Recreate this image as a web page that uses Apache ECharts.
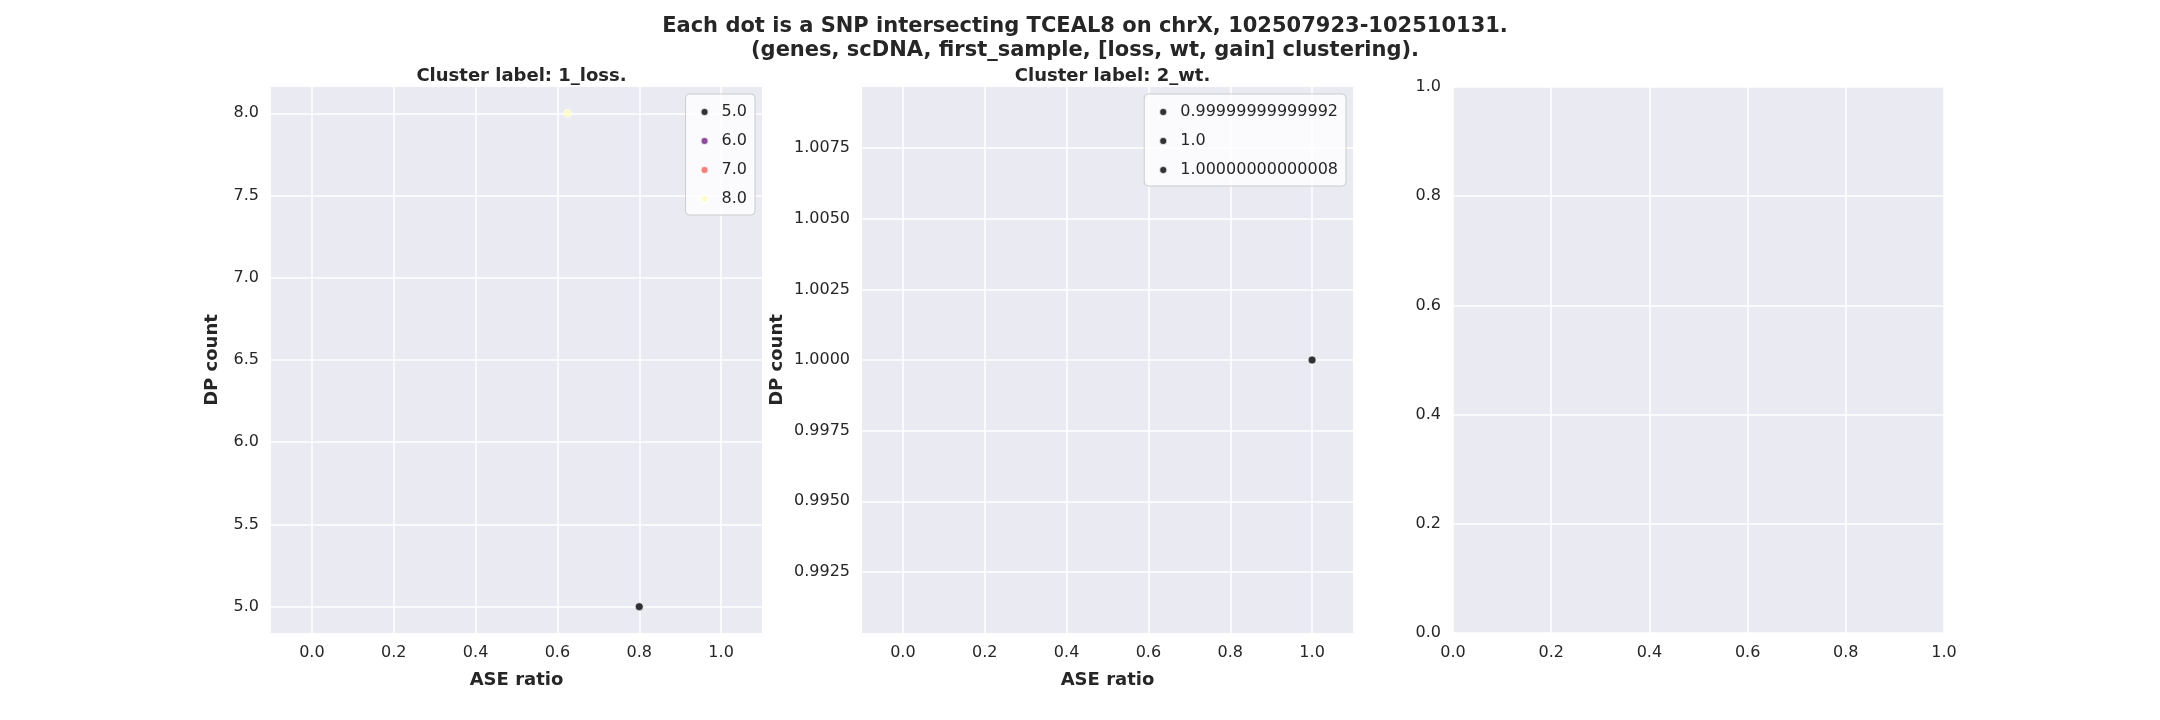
<!DOCTYPE html>
<html><head><meta charset="utf-8">
<script src="https://cdn.jsdelivr.net/npm/echarts@6/dist/echarts.min.js"></script>
<style>html,body{margin:0;background:#fff}#c{width:2160px;height:720px}</style>
</head><body><div id="c"></div>
<script>
const titleLines = "Each dot is a SNP intersecting TCEAL8 on chrX, 102507923-102510131.\n(genes, scDNA, first_sample, [loss, wt, gain] clustering).";
const panelTitles = ["Cluster label: 1_loss.", "Cluster label: 2_wt.", ""];
const p1Legend = ["5.0", "6.0", "7.0", "8.0"];
const p1Colors = ["#000004", "#721f81", "#f1605d", "#fcfdbf"];
const p1Points = { "5.0": [[0.8, 5.0]], "6.0": [], "7.0": [], "8.0": [[0.625, 8.0]] };
const p2Legend = ["0.99999999999992", "1.0", "1.00000000000008"];
const p2Points = { "0.99999999999992": [], "1.0": [[1.0, 1.0]], "1.00000000000008": [] };
const xTicks = [0, 0.2, 0.4, 0.6, 0.8, 1.0];
const y1Ticks = [5.0, 5.5, 6.0, 6.5, 7.0, 7.5, 8.0];
const y2Ticks = [0.9925, 0.995, 0.9975, 1.0, 1.0025, 1.005, 1.0075];
const y3Ticks = [0, 0.2, 0.4, 0.6, 0.8, 1.0];

const lefts = [271, 862, 1453], W = 491, TOP = 87, H = 546;
const tc = '#262626', FF = 'DejaVu Sans';
const grids = lefts.map(l => ({ left: l, top: TOP, width: W, height: H, backgroundColor: '#eaeaf2', show: true, borderWidth: 0 }));
function xa(i, ticks, min, max, name) {
  return { gridIndex: i, type: 'value', min, max, name, nameLocation: 'middle', nameGap: 38,
    nameTextStyle: { fontFamily: FF, fontSize: 18, fontWeight: 'bold', color: tc },
    axisLine: { show: false }, axisTick: { show: false, customValues: ticks },
    axisLabel: { customValues: ticks, fontFamily: FF, fontSize: 16, color: tc, margin: 12, formatter: v => v.toFixed(1) },
    splitLine: { show: true, lineStyle: { color: '#fff', width: 1.5 } } };
}
function ya(i, ticks, min, max, name, dec) {
  return { gridIndex: i, type: 'value', min, max, name, nameLocation: 'middle', nameGap: dec > 1 ? 76 : 50,
    nameTextStyle: { fontFamily: FF, fontSize: 18, fontWeight: 'bold', color: tc },
    axisLine: { show: false }, axisTick: { show: false, customValues: ticks },
    axisLabel: { customValues: ticks, fontFamily: FF, fontSize: 16, color: tc, margin: 12, formatter: v => v.toFixed(dec) },
    splitLine: { show: true, lineStyle: { color: '#fff', width: 1.5 } } };
}
const series = [];
p1Legend.forEach((n, k) => series.push({ name: n, type: 'scatter', xAxisIndex: 0, yAxisIndex: 0, data: p1Points[n], symbolSize: 8,
  itemStyle: { color: p1Colors[k], borderColor: '#fff', borderWidth: 0.8 } }));
p2Legend.forEach(n => series.push({ name: n, type: 'scatter', xAxisIndex: 1, yAxisIndex: 1, data: p2Points[n], symbolSize: 8,
  itemStyle: { color: '#000004', borderColor: '#fff', borderWidth: 0.8 } }));
const legBase = { orient: 'vertical', icon: 'circle', itemWidth: 8, itemHeight: 8, itemGap: 13,
  backgroundColor: 'rgba(255,255,255,0.8)', borderColor: '#cccccc', borderWidth: 1, borderRadius: 4,
  padding: [10, 8, 8, 14], textStyle: { fontFamily: FF, fontSize: 16, color: tc, padding: [0, 0, 0, 8] } };
const opt = {
  animation: false,
  title: [{ text: titleLines, left: 1080, top: 10, textAlign: 'center',
      textStyle: { fontFamily: FF, fontSize: 21, fontWeight: 'bold', color: tc, lineHeight: 24 } }]
    .concat(panelTitles.map((t, i) => ({ text: t, left: lefts[i] + W / 2, top: 62, textAlign: 'center',
      textStyle: { fontFamily: FF, fontSize: 18, fontWeight: 'bold', color: tc } }))),
  grid: grids,
  xAxis: [xa(0, xTicks, -0.1, 1.1, 'ASE ratio'), xa(1, xTicks, -0.1, 1.1, 'ASE ratio'), xa(2, xTicks, 0, 1, '')],
  yAxis: [ya(0, y1Ticks, 4.84, 8.16, 'DP count', 1), ya(1, y2Ticks, 0.99034, 1.00966, 'DP count', 4), ya(2, y3Ticks, 0, 1, '', 1)],
  legend: [Object.assign({}, legBase, { data: p1Legend, right: 2160 - 755, top: 94 }),
           Object.assign({}, legBase, { data: p2Legend, right: 2160 - 1346, top: 94 })],
  series
};
echarts.init(document.getElementById('c')).setOption(opt);
</script></body></html>
